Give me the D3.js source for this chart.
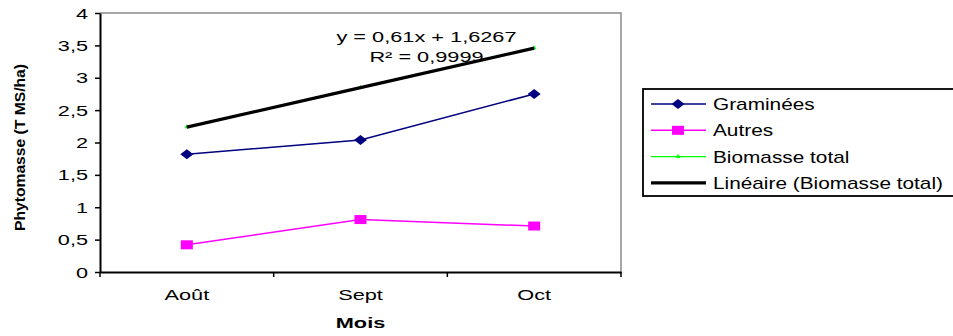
<!DOCTYPE html>
<html>
<head>
<meta charset="utf-8">
<script src="https://cdn.jsdelivr.net/npm/d3@7"></script>
<style>
  body { margin: 0; background: #fff; }
  svg { display: block; font-family: "Liberation Sans", Arial, sans-serif; }
</style>
</head>
<body>
<div id="holder"></div>
<script>
// data
var months = ['Août', 'Sept', 'Oct'];
var graminees = [1.82, 2.04, 2.75];
var autres = [0.42, 0.81, 0.71];
var biomasseTotal = [2.24, 2.85, 3.46];
var yTicks = [0, 0.5, 1, 1.5, 2, 2.5, 3, 3.5, 4];
var trendSlope = 0.61;
var trendIntercept = 1.6267;
var trendLabels = ['y = 0,61x + 1,6267', 'R\u00b2 = 0,9999'];
var legendNames = ['Graminées', 'Autres', 'Biomasse total', 'Linéaire (Biomasse total)'];

var width = 953, height = 336;
var plotLeft = 100, plotRight = 621, plotTop = 13, plotBottom = 272;

var svg = d3.select('#holder').append('svg').attr('width', width).attr('height', height);

var x = d3.scaleBand().domain(months).range([plotLeft, plotRight]);
var y = d3.scaleLinear().domain([0, 4]).range([plotBottom, plotTop]);
var fmt = d3.formatLocale({decimal: ',', thousands: ' ', grouping: [3], currency: ['', '']}).format('~g');

// stretched text like the original picture
function stretchText(sel, sx) {
  sel.each(function() {
    var t = d3.select(this);
    var tx = +t.attr('x') || 0;
    t.attr('x', tx / sx).attr('transform', 'scale(' + sx + ',1)');
  });
}

// plot frame: grey top/right
svg.append('path')
  .attr('d', 'M' + plotLeft + ',' + plotTop + 'H' + plotRight + 'V' + plotBottom)
  .attr('fill', 'none').attr('stroke', '#8c8c8c').attr('stroke-width', 1.5);

// y axis
var yAxis = svg.append('g').attr('transform', 'translate(' + plotLeft + ',0)')
  .call(d3.axisLeft(y).tickValues(yTicks).tickFormat(fmt).tickSize(5).tickSizeOuter(0));
yAxis.select('.domain').attr('stroke', '#000').attr('stroke-width', 2);
yAxis.selectAll('.tick line').attr('stroke', '#000').attr('stroke-width', 1.5);
yAxis.selectAll('text').attr('font-size', 14).attr('fill', '#000').attr('font-family', null)
  .attr('x', -12).attr('dy', '0.36em');
stretchText(yAxis.selectAll('text'), 1.55);

// x axis: labels centred, ticks at category edges
var xAxis = svg.append('g').attr('transform', 'translate(0,' + plotBottom + ')')
  .call(d3.axisBottom(x).tickSize(0).tickSizeOuter(0));
xAxis.select('.domain').attr('stroke', '#000').attr('stroke-width', 2);
xAxis.selectAll('text').attr('font-size', 15).attr('fill', '#000').attr('font-family', null)
  .attr('y', 28).attr('dy', 0);
stretchText(xAxis.selectAll('text'), 1.45);
var edges = months.map(function(m) { return x(m); }).concat([plotRight]);
xAxis.selectAll('.edge').data(edges).enter().append('line')
  .attr('x1', function(d) { return d; }).attr('x2', function(d) { return d; })
  .attr('y1', 0).attr('y2', 5).attr('stroke', '#000').attr('stroke-width', 1.5);

// axis titles
svg.append('text')
  .attr('transform', 'translate(25,' + ((plotTop + plotBottom) / 2 + 5) + ') rotate(-90) scale(1.08,1)')
  .attr('text-anchor', 'middle').attr('font-size', 14.5).attr('font-weight', 'bold')
  .text('Phytomasse (T MS/ha)');
svg.append('text')
  .attr('transform', 'translate(' + (x('Sept') + x.bandwidth() / 2) + ',328) scale(1.45,1)')
  .attr('text-anchor', 'middle').attr('font-size', 15).attr('font-weight', 'bold')
  .text('Mois');

var cx = function(d, i) { return x(months[i]) + x.bandwidth() / 2; };
var line = d3.line().x(cx).y(function(d) { return y(d); });

// Biomasse total (thin green) + trend on top
svg.append('path').datum(biomasseTotal).attr('d', line)
  .attr('fill', 'none').attr('stroke', '#00ff00').attr('stroke-width', 1.2);
svg.selectAll('.tot').data(biomasseTotal).enter().append('path')
  .attr('transform', function(d, i) { return 'translate(' + cx(d, i) + ',' + y(d) + ')'; })
  .attr('d', d3.symbol(d3.symbolTriangle, 10)).attr('fill', '#00ff00');

var trend = months.map(function(m, i) { return trendSlope * (i + 1) + trendIntercept; });
svg.append('path').datum(trend).attr('d', line)
  .attr('fill', 'none').attr('stroke', '#000').attr('stroke-width', 3.2);

// Graminées
svg.append('path').datum(graminees).attr('d', line)
  .attr('fill', 'none').attr('stroke', '#000080').attr('stroke-width', 1.5);
svg.selectAll('.gram').data(graminees).enter().append('path')
  .attr('transform', function(d, i) { return 'translate(' + cx(d, i) + ',' + y(d) + ') scale(1.3,1)'; })
  .attr('d', 'M0,-5L5,0L0,5L-5,0Z').attr('fill', '#000080');

// Autres
svg.append('path').datum(autres).attr('d', line)
  .attr('fill', 'none').attr('stroke', '#ff00ff').attr('stroke-width', 1.5);
svg.selectAll('.aut').data(autres).enter().append('rect')
  .attr('x', function(d, i) { return cx(d, i) - 6; }).attr('y', function(d) { return y(d) - 4.5; })
  .attr('width', 12).attr('height', 9).attr('fill', '#ff00ff');

// trendline equation
var labelX = x('Sept') + x.bandwidth() / 2 + 66;
svg.selectAll('.eq').data(trendLabels).enter().append('text')
  .attr('transform', function(d, i) { return 'translate(' + labelX + ',' + (42 + i * 20) + ') scale(1.45,1)'; })
  .attr('text-anchor', 'middle').attr('font-size', 15).text(function(d) { return d; });

// legend
var lg = svg.append('g');
lg.append('rect').attr('x', 643).attr('y', 89).attr('width', 330).attr('height', 107)
  .attr('fill', '#fff').attr('stroke', '#000').attr('stroke-width', 1.8);
var legendColors = ['#000080', '#ff00ff', '#00ff00', '#000'];
var legendWidths = [1.5, 1.5, 1.2, 3.2];
var rows = lg.selectAll('.row').data(legendNames).enter().append('g')
  .attr('transform', function(d, i) { return 'translate(0,' + (104 + i * 26.3) + ')'; });
rows.append('line').attr('x1', 651).attr('x2', 706)
  .attr('stroke', function(d, i) { return legendColors[i]; })
  .attr('stroke-width', function(d, i) { return legendWidths[i]; });
rows.filter(function(d, i) { return i === 0; }).append('path')
  .attr('transform', 'translate(678,0) scale(1.3,1)').attr('d', 'M0,-5L5,0L0,5L-5,0Z').attr('fill', '#000080');
rows.filter(function(d, i) { return i === 1; }).append('rect')
  .attr('x', 672).attr('y', -4.5).attr('width', 12).attr('height', 9).attr('fill', '#ff00ff');
rows.filter(function(d, i) { return i === 2; }).append('path')
  .attr('transform', 'translate(678,0)').attr('d', d3.symbol(d3.symbolTriangle, 10)).attr('fill', '#00ff00');
rows.append('text').attr('transform', 'translate(713,6) scale(1.3,1)')
  .attr('font-size', 16).text(function(d) { return d; });
</script>
</body>
</html>
